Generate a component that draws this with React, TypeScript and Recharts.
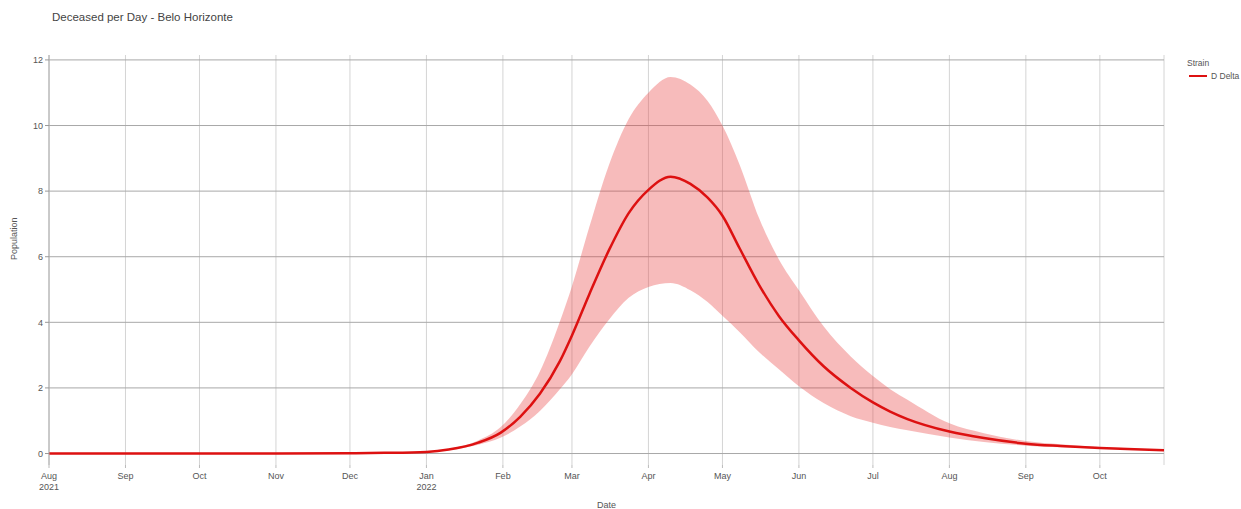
import React from 'react';
import { ComposedChart, Area, Line, XAxis, YAxis, CartesianGrid, Label } from 'recharts';

// values (deceased per day, Belo Horizonte)
const dates = [
  '2021-08-01', '2021-09-01', '2021-10-01', '2021-11-01', '2021-12-01', '2021-12-15',
  '2022-01-01', '2022-01-10', '2022-01-22', '2022-01-31', '2022-02-08', '2022-02-16',
  '2022-02-24', '2022-03-01', '2022-03-08', '2022-03-16', '2022-03-24', '2022-04-01',
  '2022-04-10', '2022-04-18', '2022-04-25', '2022-05-01', '2022-05-08', '2022-05-16',
  '2022-05-24', '2022-06-01', '2022-06-11', '2022-06-22', '2022-07-01', '2022-07-08',
  '2022-07-15', '2022-08-01', '2022-08-15', '2022-09-01', '2022-09-15', '2022-10-01',
  '2022-10-15', '2022-10-27',
];
const mean = [
  0, 0, 0, 0.002, 0.01, 0.02,
  0.05, 0.12, 0.33, 0.63, 1.12, 1.82,
  2.8, 3.6, 4.85, 6.2, 7.33, 8.04,
  8.44, 8.22, 7.8, 7.25, 6.25, 5.12,
  4.18, 3.45, 2.66, 2.0, 1.56, 1.28,
  1.05, 0.67, 0.47, 0.3, 0.23, 0.17,
  0.13, 0.1,
];
const lower = [
  0, 0, 0, 0.002, 0.008, 0.016,
  0.04, 0.1, 0.27, 0.48, 0.82, 1.3,
  1.95, 2.42, 3.25, 4.08, 4.75, 5.08,
  5.2, 4.98, 4.62, 4.2, 3.7, 3.08,
  2.56, 2.05, 1.54, 1.14, 0.94, 0.81,
  0.71, 0.49, 0.35, 0.24, 0.19, 0.15,
  0.12, 0.09,
];
const upper = [
  0, 0, 0, 0.002, 0.012, 0.024,
  0.06, 0.14, 0.4, 0.8, 1.5, 2.5,
  4.0, 5.1, 6.9, 8.8, 10.2, 11.0,
  11.48, 11.25, 10.75, 10.0, 8.8, 7.15,
  5.9, 4.98, 3.88, 2.96, 2.36, 1.96,
  1.64, 0.92, 0.62, 0.38, 0.28, 0.2,
  0.15, 0.11,
];

const monthTicks = [
  '2021-08-01', '2021-09-01', '2021-10-01', '2021-11-01', '2021-12-01', '2022-01-01', '2022-02-01',
  '2022-03-01', '2022-04-01', '2022-05-01', '2022-06-01', '2022-07-01', '2022-08-01', '2022-09-01', '2022-10-01',
];
const yTicks = [0, 2, 4, 6, 8, 10, 12];
const monthNames = ['Jan', 'Feb', 'Mar', 'Apr', 'May', 'Jun', 'Jul', 'Aug', 'Sep', 'Oct', 'Nov', 'Dec'];

const toTs = (s: string) => {
  const [y, m, d] = s.split('-').map(Number);
  return Date.UTC(y, m - 1, d);
};

const data = dates.map((d, i) => ({
  t: toTs(d),
  mean: mean[i],
  band: [lower[i], upper[i]],
}));

const FONT = '"Liberation Sans", Arial, sans-serif';
const RED = '#dd1111';

const MonthTick = (props: any) => {
  const { x, y, payload } = props;
  const dt = new Date(payload.value);
  const m = dt.getUTCMonth();
  const first = payload.value === toTs(monthTicks[0]);
  return (
    <g>
      <text x={x} y={y + 9} textAnchor="middle" fontSize={9} fill="#555" fontFamily={FONT}>
        {monthNames[m]}
      </text>
      {(m === 0 || first) && (
        <text x={x} y={y + 20} textAnchor="middle" fontSize={9} fill="#555" fontFamily={FONT}>
          {dt.getUTCFullYear()}
        </text>
      )}
    </g>
  );
};

export default function App() {
  return (
    <div style={{ position: 'absolute', left: 0, top: 0, width: 1241, height: 509, background: '#fff', overflow: 'hidden' }}>
      <div style={{ position: 'absolute', left: 52, top: 11, fontFamily: FONT, fontSize: 11.5, color: '#444' }}>
        Deceased per Day - Belo Horizonte
      </div>
      <div style={{ position: 'absolute', left: 1187, top: 58, fontFamily: FONT, fontSize: 8.5, color: '#555', whiteSpace: 'nowrap' }}>
        <div style={{ marginBottom: 3 }}>Strain</div>
        <div style={{ display: 'flex', alignItems: 'center' }}>
          <span style={{ display: 'inline-block', width: 18, height: 2.5, background: RED, marginLeft: 2, marginRight: 4 }}></span>
          <span>D Delta</span>
        </div>
      </div>
      <ComposedChart width={1241} height={509} data={data} margin={{ top: 55, right: 77, bottom: 0, left: 9 }}>
        <CartesianGrid stroke="#d4d4d4" horizontal={false} />
        <CartesianGrid stroke="#a8a8a8" vertical={false} horizontalValues={yTicks} />
        <XAxis
          dataKey="t"
          type="number"
          scale="linear"
          domain={[toTs('2021-08-01'), toTs('2022-10-27')]}
          ticks={monthTicks.map(toTs)}
          interval={0}
          tick={<MonthTick />}
          tickLine={{ stroke: '#bbb' }}
          tickSize={3}
          axisLine={false}
          height={44}
          allowDataOverflow
        >
          <Label value="Date" position="insideBottom" offset={1} fontSize={9} fill="#555" fontFamily={FONT} />
        </XAxis>
        <YAxis
          type="number"
          domain={[-0.35, 12.15]}
          ticks={yTicks}
          interval={0}
          width={40}
          tick={{ fontSize: 9, fill: '#555', fontFamily: FONT }}
          tickLine={{ stroke: '#999' }}
          tickSize={4}
          axisLine={{ stroke: '#aaa' }}
          allowDataOverflow
        >
          <Label value="Population" angle={-90} position="insideLeft" offset={0} dx={5} fontSize={9} fill="#555" fontFamily={FONT} />
        </YAxis>
        <Area
          type="monotone"
          dataKey="band"
          stroke="none"
          fill="rgba(232, 60, 60, 0.35)"
          fillOpacity={1}
          isAnimationActive={false}
        />
        <Line
          type="monotone"
          dataKey="mean"
          stroke={RED}
          strokeWidth={2.5}
          dot={false}
          isAnimationActive={false}
        />
      </ComposedChart>
    </div>
  );
}
